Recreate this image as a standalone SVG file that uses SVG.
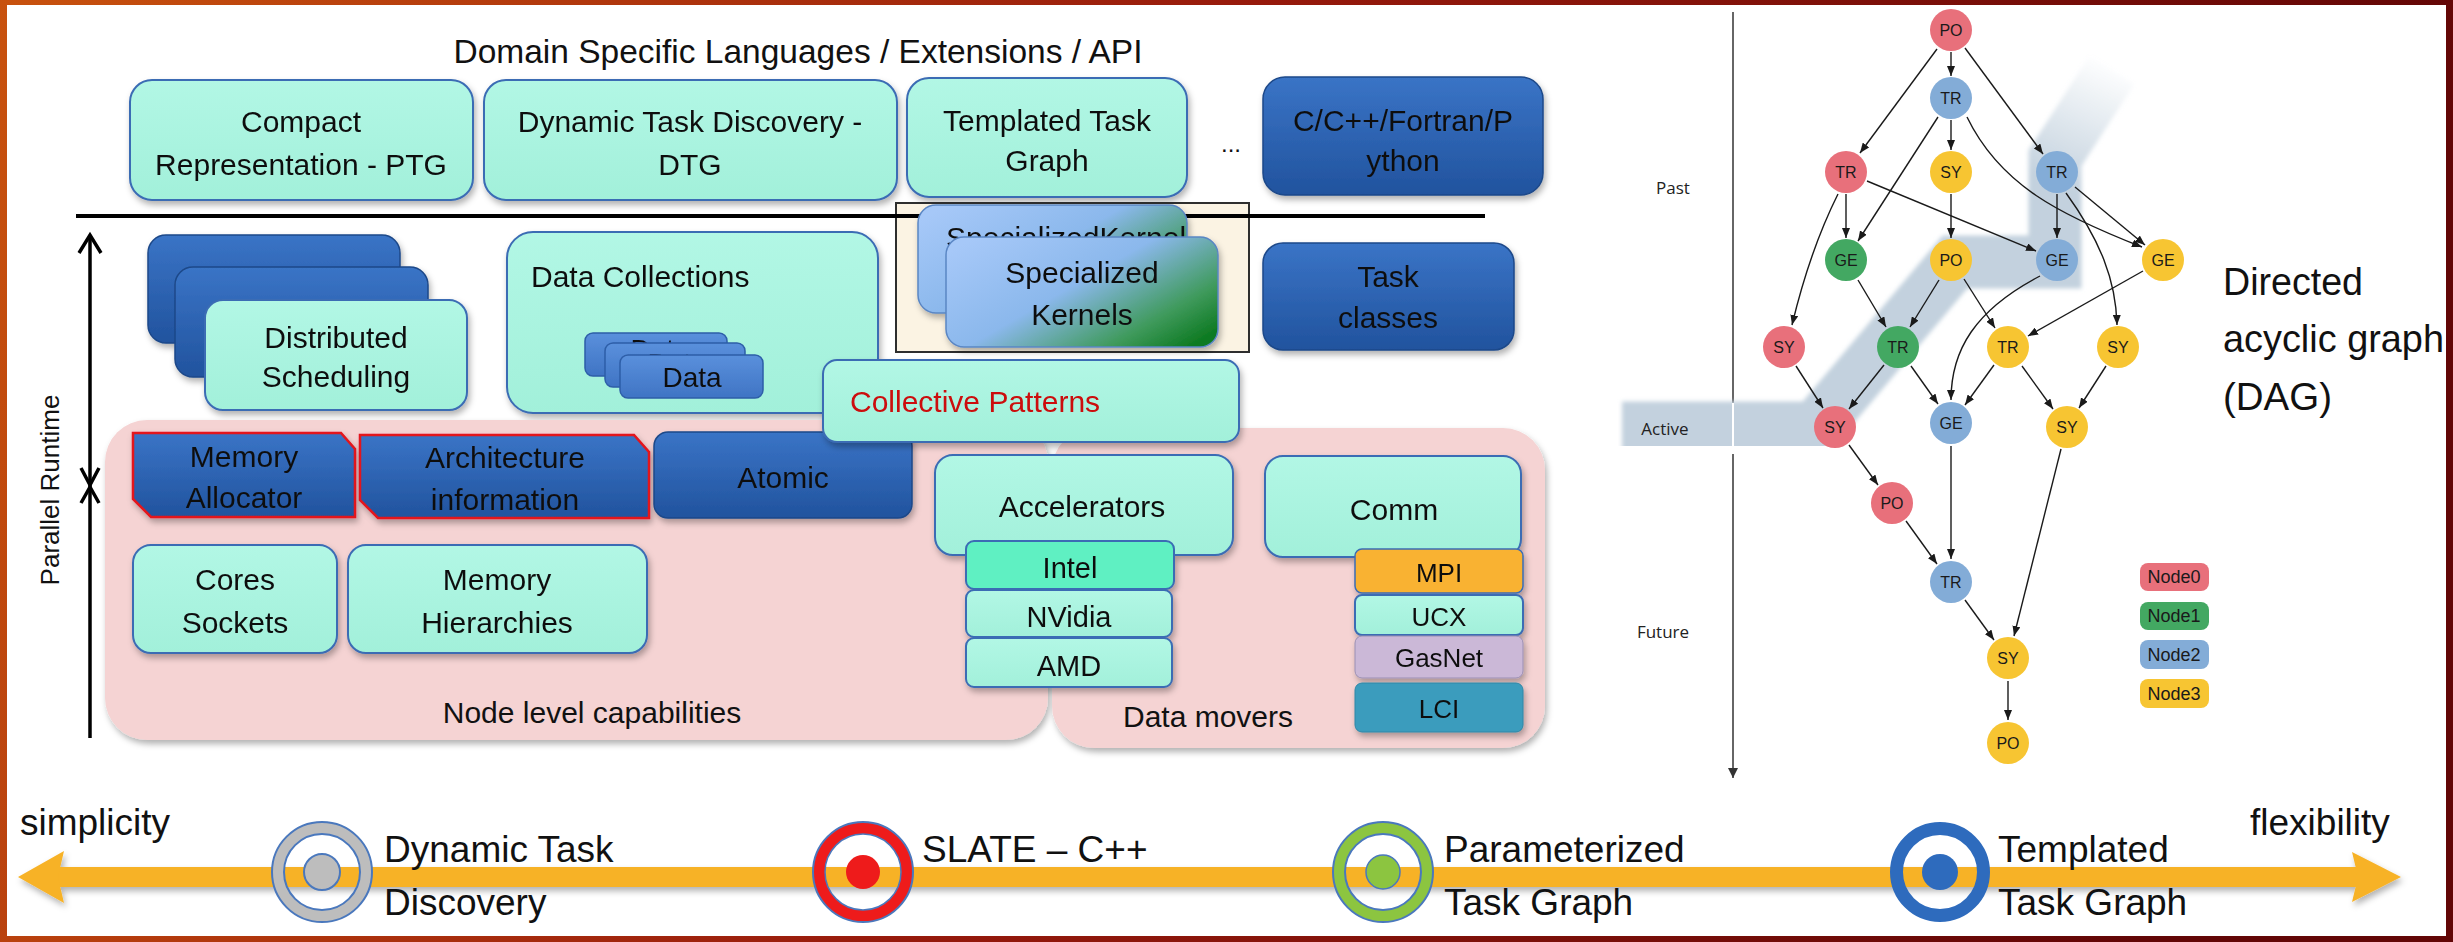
<svg xmlns="http://www.w3.org/2000/svg" width="2453" height="942" viewBox="0 0 2453 942">
  <defs>
    <linearGradient id="frameGrad" x1="0" y1="0" x2="1" y2="0.15">
      <stop offset="0" stop-color="#c8520e"/>
      <stop offset="0.5" stop-color="#971a0c"/>
      <stop offset="1" stop-color="#620606"/>
    </linearGradient>
    <linearGradient id="aqua" x1="0" y1="0" x2="0" y2="1">
      <stop offset="0" stop-color="#b2f7e5"/>
      <stop offset="1" stop-color="#a2f0da"/>
    </linearGradient>
    <linearGradient id="navy" x1="0" y1="0" x2="0" y2="1">
      <stop offset="0" stop-color="#3a74c6"/>
      <stop offset="1" stop-color="#21539e"/>
    </linearGradient>
    <linearGradient id="midblue" x1="0" y1="0" x2="0" y2="1">
      <stop offset="0" stop-color="#5a90dc"/>
      <stop offset="1" stop-color="#3f74c4"/>
    </linearGradient>
    <linearGradient id="kern" x1="0" y1="0.15" x2="1" y2="0.85">
      <stop offset="0" stop-color="#a6c8f8"/>
      <stop offset="0.45" stop-color="#8bb8ec"/>
      <stop offset="0.8" stop-color="#3f9a5c"/>
      <stop offset="1" stop-color="#0e7a22"/>
    </linearGradient>
    <linearGradient id="bandGrad" gradientUnits="userSpaceOnUse" x1="2055" y1="185" x2="2110" y2="62">
      <stop offset="0" stop-color="#c3d1de" stop-opacity="1"/>
      <stop offset="1" stop-color="#c3d1de" stop-opacity="0"/>
    </linearGradient>
    <clipPath id="kernBackClip">
      <rect x="918" y="205" width="269" height="108" rx="18"/>
    </clipPath>
    <filter id="shadow" x="-10%" y="-10%" width="125%" height="135%">
      <feDropShadow dx="2" dy="4" stdDeviation="3" flood-color="#000" flood-opacity="0.3"/>
    </filter>
    <filter id="soft" x="-5%" y="-5%" width="110%" height="110%">
      <feGaussianBlur stdDeviation="2"/>
    </filter>
    <marker id="dagHead" markerUnits="userSpaceOnUse" markerWidth="10" markerHeight="8" refX="10" refY="4" orient="auto">
      <path d="M0,0 L10,4 L0,8 z" fill="#1a1a1a"/>
    </marker>
    <marker id="axisHead" markerUnits="userSpaceOnUse" markerWidth="10" markerHeight="10" refX="10" refY="5" orient="auto">
      <path d="M0,0 L10,5 L0,10 z" fill="#333"/>
    </marker>
    <style>
      .t { font-family: "Liberation Sans", Arial, sans-serif; font-size: 30px; fill: #111; text-anchor: middle; }
      .tl { text-anchor: start; }
      .sm { font-size: 26px; }
      .big { font-size: 37px; text-anchor: start; }
      .box { fill: url(#aqua); stroke: #3b6cb4; stroke-width: 2; }
      .dark { fill: url(#navy); stroke: #1d4889; stroke-width: 1.5; }
      .data { fill: url(#midblue); stroke: #2d5ea8; stroke-width: 1.5; }
      .red { stroke: #e3141c; stroke-width: 2.5; }
      .pink { fill: #f5d3d3; }
      .edge { fill: none; stroke: #1a1a1a; stroke-width: 1.4; marker-end: url(#dagHead); }
      .dn { font-family: "Liberation Sans", Arial, sans-serif; font-size: 16px; fill: #1a1a1a; text-anchor: middle; }
      .lg { font-size: 18px; }
      .lab { font-family: "Open Sans", "Liberation Sans", sans-serif; font-size: 17px; fill: #222; text-anchor: middle; }
      .n0 { fill: #e8707b; }
      .n1 { fill: #43a862; }
      .n2 { fill: #83acd7; }
      .n3 { fill: #f7c532; }
    </style>
  </defs>

  <!-- slide frame -->
  <rect x="0" y="0" width="2453" height="942" fill="url(#frameGrad)"/>
  <rect x="7" y="5" width="2439" height="931" fill="#ffffff"/>

  <!-- ===== runtime stack (left) ===== -->
  <text class="t" x="798" y="63" style="font-size:33.5px">Domain Specific Languages / Extensions / API</text>

  <g id="compact" filter="url(#shadow)">
    <rect class="box" x="130" y="80" width="343" height="120" rx="22"/>
    <text class="t" x="301" y="132">Compact</text>
    <text class="t" x="301" y="175">Representation - PTG</text>
  </g>
  <g id="dtg" filter="url(#shadow)">
    <rect class="box" x="484" y="80" width="413" height="120" rx="22"/>
    <text class="t" x="690" y="132">Dynamic Task Discovery -</text>
    <text class="t" x="690" y="175">DTG</text>
  </g>
  <g id="ttg" filter="url(#shadow)">
    <rect class="box" x="907" y="78" width="280" height="119" rx="22"/>
    <text class="t" x="1047" y="131">Templated Task</text>
    <text class="t" x="1047" y="171">Graph</text>
  </g>
  <text class="t" x="1231" y="152" style="font-size:24px">...</text>
  <g id="langs" filter="url(#shadow)">
    <rect class="dark" x="1263" y="77" width="280" height="118" rx="22"/>
    <text class="t" x="1403" y="131">C/C++/Fortran/P</text>
    <text class="t" x="1403" y="171">ython</text>
  </g>

  <!-- specialized kernels frame -->
  <rect id="kernel-frame" x="896" y="203" width="353" height="149" fill="#fbf3e3" stroke="#2e2e2e" stroke-width="2"/>

  <!-- API separator -->
  <line x1="76" y1="216" x2="1485" y2="216" stroke="#000" stroke-width="4"/>

  <g id="kernels" filter="url(#shadow)">
    <rect x="918" y="205" width="269" height="108" rx="18" fill="url(#kern)" stroke="#5a86c4" stroke-width="1.5"/>
    <text class="t tl" x="946" y="248" clip-path="url(#kernBackClip)">SpecializedKernels</text>
    <rect x="946" y="237" width="272" height="110" rx="18" fill="url(#kern)" stroke="#5a86c4" stroke-width="1.5"/>
    <text class="t" x="1082" y="283">Specialized</text>
    <text class="t" x="1082" y="325">Kernels</text>
  </g>

  <g id="task-classes" filter="url(#shadow)">
    <rect class="dark" x="1263" y="243" width="251" height="107" rx="20"/>
    <text class="t" x="1388" y="287">Task</text>
    <text class="t" x="1388" y="328">classes</text>
  </g>

  <g id="dist-sched" filter="url(#shadow)">
    <rect class="dark" x="148" y="235" width="252" height="108" rx="18"/>
    <rect class="dark" x="175" y="267" width="253" height="110" rx="18"/>
    <rect class="box" x="205" y="300" width="262" height="110" rx="18"/>
    <text class="t" x="336" y="348">Distributed</text>
    <text class="t" x="336" y="387">Scheduling</text>
  </g>

  <g id="data-collections" filter="url(#shadow)">
    <rect class="box" x="507" y="232" width="371" height="181" rx="26"/>
    <text class="t tl" x="531" y="287">Data Collections</text>
    <rect class="data" x="585" y="333" width="142" height="43" rx="8"/>
    <text class="t" x="660" y="359" style="font-size:28px">Data</text>
    <rect class="data" x="605" y="343" width="140" height="44" rx="8"/>
    <text class="t" x="677" y="373" style="font-size:28px">Data</text>
    <rect class="data" x="620" y="355" width="143" height="43" rx="8"/>
    <text class="t" x="692" y="387" style="font-size:28px">Data</text>
  </g>

  <!-- node level / data movers regions -->
  <g id="regions" filter="url(#shadow)">
    <rect class="pink" x="105" y="420" width="943" height="320" rx="42"/>
    <rect class="pink" x="1052" y="428" width="493" height="320" rx="42"/>
  </g>

  <g id="mem-alloc" filter="url(#shadow)">
    <path class="dark red" d="M133,433 L341,433 L355,449 L355,517 L151,517 L133,499 Z" fill="url(#navy)"/>
    <text class="t" x="244" y="467">Memory</text>
    <text class="t" x="244" y="508">Allocator</text>
  </g>
  <g id="arch-info" filter="url(#shadow)">
    <path class="dark red" d="M360,435 L634,435 L649,452 L649,518 L378,518 L360,500 Z" fill="url(#navy)"/>
    <text class="t" x="505" y="468">Architecture</text>
    <text class="t" x="505" y="510">information</text>
  </g>
  <g id="atomic" filter="url(#shadow)">
    <rect class="dark" x="654" y="432" width="258" height="86" rx="14"/>
    <text class="t" x="783" y="488">Atomic</text>
  </g>

  <g id="collective" filter="url(#shadow)">
    <rect class="box" x="823" y="360" width="416" height="82" rx="14"/>
    <text class="t tl" x="850" y="412" style="fill:#cc0a0a">Collective Patterns</text>
  </g>

  <g id="cores" filter="url(#shadow)">
    <rect class="box" x="133" y="545" width="204" height="108" rx="18"/>
    <text class="t" x="235" y="590">Cores</text>
    <text class="t" x="235" y="633">Sockets</text>
  </g>
  <g id="mem-hier" filter="url(#shadow)">
    <rect class="box" x="348" y="545" width="299" height="108" rx="18"/>
    <text class="t" x="497" y="590">Memory</text>
    <text class="t" x="497" y="633">Hierarchies</text>
  </g>

  <g id="accelerators" filter="url(#shadow)">
    <rect class="box" x="935" y="455" width="298" height="100" rx="18"/>
    <text class="t" x="1082" y="517">Accelerators</text>
    <rect x="966" y="541" width="208" height="48" rx="8" fill="#5ef0c2" stroke="#3b6cb4" stroke-width="2"/>
    <text class="t" x="1070" y="578" style="font-size:29px">Intel</text>
    <rect class="box" x="966" y="590" width="206" height="47" rx="8"/>
    <text class="t" x="1069" y="627" style="font-size:29px">NVidia</text>
    <rect class="box" x="966" y="638" width="206" height="49" rx="8"/>
    <text class="t" x="1069" y="676" style="font-size:29px">AMD</text>
  </g>

  <g id="comm" filter="url(#shadow)">
    <rect class="box" x="1265" y="456" width="256" height="101" rx="18"/>
    <text class="t" x="1394" y="520">Comm</text>
    <rect x="1355" y="549" width="168" height="44" rx="7" fill="#f9b233" stroke="#3b6cb4" stroke-width="1.5"/>
    <text class="t sm" x="1439" y="582">MPI</text>
    <rect class="box" x="1355" y="595" width="168" height="40" rx="7" stroke-width="1.5"/>
    <text class="t sm" x="1439" y="626">UCX</text>
    <rect x="1355" y="636" width="168" height="42" rx="7" fill="#cbb8d7" stroke="#9a8fb3" stroke-width="1"/>
    <text class="t sm" x="1439" y="667">GasNet</text>
    <rect x="1355" y="683" width="168" height="49" rx="7" fill="#3b9cbd" stroke="#2f86a6" stroke-width="1"/>
    <text class="t sm" x="1439" y="718">LCI</text>
  </g>

  <text class="t" x="592" y="723">Node level capabilities</text>
  <text class="t" x="1208" y="727">Data movers</text>

  <!-- runtime axis -->
  <g id="runtime-axis" fill="none" stroke="#000" stroke-width="3.5">
    <line x1="90" y1="236" x2="90" y2="738"/>
    <path d="M79,253 L90,235 L101,253"/>
    <path d="M81,468 L90,485 L99,468"/>
    <path d="M81,503 L90,487 L99,503"/>
  </g>
  <text class="t" transform="translate(59,490) rotate(-90)" style="font-size:26px">Parallel Runtime</text>

  <!-- ===== task DAG (right) ===== -->
  <line x1="1733" y1="12" x2="1733" y2="778" stroke="#333" stroke-width="1.5" marker-end="url(#axisHead)"/>
  <path id="active-band" d="M1622,428 L1815,428 L1955,262 L2055,262 L2055,158 L2112,70" fill="none" stroke="url(#bandGrad)" stroke-width="53" stroke-linejoin="miter" filter="url(#soft)"/>
  <line x1="1733" y1="403" x2="1733" y2="454" stroke="#ffffff" stroke-width="2"/>

  <text class="lab" x="1673" y="194">Past</text>
  <text class="lab" x="1665" y="435">Active</text>
  <text class="lab" x="1663" y="638">Future</text>

  <g id="dag-edges">
    <line class="edge" x1="1951" y1="52" x2="1951" y2="76"/>
    <line class="edge" x1="1937" y1="49" x2="1860" y2="153"/>
    <line class="edge" x1="1965" y1="48" x2="2043" y2="154"/>
    <line class="edge" x1="1951" y1="120" x2="1951" y2="150"/>
    <line class="edge" x1="1938" y1="117" x2="1858" y2="241"/>
    <path class="edge" d="M1967,117 C2000,185 2060,215 2142,247"/>
    <line class="edge" x1="1846" y1="194" x2="1846" y2="238"/>
    <line class="edge" x1="1867" y1="181" x2="2036" y2="251"/>
    <path class="edge" d="M1838,194 Q1810,250 1792,325"/>
    <line class="edge" x1="1951" y1="194" x2="1951" y2="238"/>
    <line class="edge" x1="2057" y1="194" x2="2057" y2="238"/>
    <line class="edge" x1="2075" y1="187" x2="2145" y2="245"/>
    <path class="edge" d="M2066,193 C2100,240 2116,280 2117,325"/>
    <line class="edge" x1="1858" y1="280" x2="1886" y2="327"/>
    <line class="edge" x1="1939" y1="280" x2="1910" y2="327"/>
    <line class="edge" x1="1964" y1="279" x2="1995" y2="328"/>
    <path class="edge" d="M2040,276 C1975,310 1951,350 1951,400"/>
    <line class="edge" x1="2143" y1="271" x2="2028" y2="336"/>
    <line class="edge" x1="1796" y1="366" x2="1823" y2="408"/>
    <line class="edge" x1="1884" y1="365" x2="1849" y2="409"/>
    <line class="edge" x1="1911" y1="366" x2="1938" y2="404"/>
    <line class="edge" x1="1994" y1="365" x2="1965" y2="405"/>
    <line class="edge" x1="2022" y1="366" x2="2053" y2="409"/>
    <line class="edge" x1="2106" y1="366" x2="2079" y2="408"/>
    <line class="edge" x1="1849" y1="445" x2="1878" y2="485"/>
    <line class="edge" x1="1951" y1="446" x2="1951" y2="559"/>
    <line class="edge" x1="2061" y1="449" x2="2014" y2="636"/>
    <line class="edge" x1="1906" y1="521" x2="1937" y2="564"/>
    <line class="edge" x1="1965" y1="600" x2="1994" y2="640"/>
    <line class="edge" x1="2008" y1="681" x2="2008" y2="720"/>
  </g>

  <g id="dag-po0"><circle class="n0" cx="1951" cy="30" r="21"/><text class="dn" x="1951" y="36">PO</text></g>
  <g id="dag-tr2a"><circle class="n2" cx="1951" cy="98" r="21"/><text class="dn" x="1951" y="104">TR</text></g>
  <g id="dag-tr0"><circle class="n0" cx="1846" cy="172" r="21"/><text class="dn" x="1846" y="178">TR</text></g>
  <g id="dag-sy3a"><circle class="n3" cx="1951" cy="172" r="21"/><text class="dn" x="1951" y="178">SY</text></g>
  <g id="dag-tr2b"><circle class="n2" cx="2057" cy="172" r="21"/><text class="dn" x="2057" y="178">TR</text></g>
  <g id="dag-ge1"><circle class="n1" cx="1846" cy="260" r="21"/><text class="dn" x="1846" y="266">GE</text></g>
  <g id="dag-po3"><circle class="n3" cx="1951" cy="260" r="21"/><text class="dn" x="1951" y="266">PO</text></g>
  <g id="dag-ge2a"><circle class="n2" cx="2057" cy="260" r="21"/><text class="dn" x="2057" y="266">GE</text></g>
  <g id="dag-ge3"><circle class="n3" cx="2163" cy="260" r="21"/><text class="dn" x="2163" y="266">GE</text></g>
  <g id="dag-sy0a"><circle class="n0" cx="1784" cy="347" r="21"/><text class="dn" x="1784" y="353">SY</text></g>
  <g id="dag-tr1"><circle class="n1" cx="1898" cy="347" r="21"/><text class="dn" x="1898" y="353">TR</text></g>
  <g id="dag-tr3"><circle class="n3" cx="2008" cy="347" r="21"/><text class="dn" x="2008" y="353">TR</text></g>
  <g id="dag-sy3b"><circle class="n3" cx="2118" cy="347" r="21"/><text class="dn" x="2118" y="353">SY</text></g>
  <g id="dag-sy0b"><circle class="n0" cx="1835" cy="427" r="21"/><text class="dn" x="1835" y="433">SY</text></g>
  <g id="dag-ge2b"><circle class="n2" cx="1951" cy="423" r="21"/><text class="dn" x="1951" y="429">GE</text></g>
  <g id="dag-sy3c"><circle class="n3" cx="2067" cy="427" r="21"/><text class="dn" x="2067" y="433">SY</text></g>
  <g id="dag-po0b"><circle class="n0" cx="1892" cy="503" r="21"/><text class="dn" x="1892" y="509">PO</text></g>
  <g id="dag-tr2c"><circle class="n2" cx="1951" cy="582" r="21"/><text class="dn" x="1951" y="588">TR</text></g>
  <g id="dag-sy3d"><circle class="n3" cx="2008" cy="658" r="21"/><text class="dn" x="2008" y="664">SY</text></g>
  <g id="dag-po3b"><circle class="n3" cx="2008" cy="743" r="21"/><text class="dn" x="2008" y="749">PO</text></g>

  <g id="dag-legend">
    <rect class="n0" x="2140" y="563" width="69" height="28" rx="8"/>
    <text class="dn lg" x="2174" y="583">Node0</text>
    <rect class="n1" x="2140" y="602" width="69" height="28" rx="8"/>
    <text class="dn lg" x="2174" y="622">Node1</text>
    <rect class="n2" x="2140" y="640" width="69" height="29" rx="8"/>
    <text class="dn lg" x="2174" y="661">Node2</text>
    <rect class="n3" x="2140" y="679" width="69" height="29" rx="8"/>
    <text class="dn lg" x="2174" y="700">Node3</text>
  </g>

  <g id="dag-title">
    <text class="t tl" x="2223" y="295" style="font-size:39px" textLength="140" lengthAdjust="spacingAndGlyphs">Directed</text>
    <text class="t tl" x="2223" y="352" style="font-size:39px" textLength="221" lengthAdjust="spacingAndGlyphs">acyclic graph</text>
    <text class="t tl" x="2223" y="410" style="font-size:39px" textLength="109" lengthAdjust="spacingAndGlyphs">(DAG)</text>
  </g>

  <!-- ===== simplicity / flexibility scale ===== -->
  <g id="scale-arrow" filter="url(#shadow)" fill="#f7b228">
    <rect x="55" y="867" width="2305" height="20"/>
    <path d="M18,877 L64,851 L58,877 L64,903 Z"/>
    <path d="M2401,877 L2352,852 L2358,877 L2352,902 Z"/>
  </g>

  <text class="t big" x="20" y="835">simplicity</text>
  <text class="t big" x="2250" y="835">flexibility</text>

  <g id="dtd-target">
    <circle cx="322" cy="872" r="44" fill="none" stroke="#bdbdbd" stroke-width="12"/>
    <circle cx="322" cy="872" r="50" fill="none" stroke="#4a78bd" stroke-width="2"/>
    <circle cx="322" cy="872" r="38" fill="none" stroke="#4a78bd" stroke-width="2"/>
    <circle cx="322" cy="872" r="18" fill="#bdbdbd" stroke="#4a78bd" stroke-width="2"/>
    <text class="t big" x="384" y="862">Dynamic Task</text>
    <text class="t big" x="384" y="915">Discovery</text>
  </g>
  <g id="slate-target">
    <circle cx="863" cy="872" r="44" fill="none" stroke="#ee1b1b" stroke-width="12"/>
    <circle cx="863" cy="872" r="50" fill="none" stroke="#4a78bd" stroke-width="2"/>
    <circle cx="863" cy="872" r="38" fill="none" stroke="#4a78bd" stroke-width="1.5"/>
    <circle cx="863" cy="872" r="17" fill="#ee1b1b"/>
    <text class="t big" x="922" y="862">SLATE – C++</text>
  </g>
  <g id="ptg-target">
    <circle cx="1383" cy="872" r="44" fill="none" stroke="#8cc540" stroke-width="12"/>
    <circle cx="1383" cy="872" r="50" fill="none" stroke="#4a78bd" stroke-width="2"/>
    <circle cx="1383" cy="872" r="38" fill="none" stroke="#4a78bd" stroke-width="2"/>
    <circle cx="1383" cy="872" r="17" fill="#8cc540" stroke="#4a78bd" stroke-width="1.5"/>
    <text class="t big" x="1444" y="862">Parameterized</text>
    <text class="t big" x="1444" y="915">Task Graph</text>
  </g>
  <g id="ttg-target">
    <circle cx="1940" cy="872" r="43.5" fill="none" stroke="#2e6bbd" stroke-width="13"/>
    <circle cx="1940" cy="872" r="18" fill="#2e6bbd"/>
    <text class="t big" x="1998" y="862">Templated</text>
    <text class="t big" x="1998" y="915">Task Graph</text>
  </g>
</svg>
